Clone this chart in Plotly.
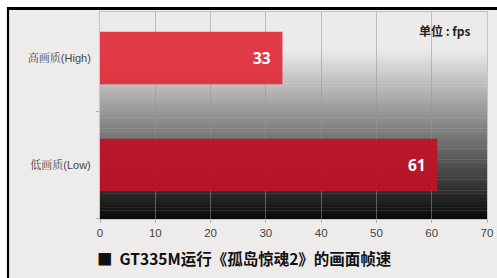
import plotly.graph_objects as go

categories = ["低画质(Low)", "高画质(High)"]
values = [61, 33]
bar_colors = ["#bd1427", "#e2303e"]
x_ticks = [0, 10, 20, 30, 40, 50, 60, 70]
title_text = "■  GT335M运行《孤岛惊魂2》的画面帧速"
unit_text = "单位 : fps"

W, H = 497, 278
L, R, T, B = 100, 10, 12, 59
pw, ph = W - L - R, H - T - B

def px_x(p):
    return (p - L) / pw

def px_y(p):
    return (H - B - p) / ph

fig = go.Figure()
fig.add_trace(go.Bar(
    y=categories, x=values, orientation="h",
    marker=dict(color=bar_colors, line=dict(width=0)),
    opacity=0.95,
    hoverinfo="skip",
))

shapes = []
# gradient background of plot area
top_c = (236, 235, 234)
bot_c = (8, 8, 8)
g_top = px_y(50)
N = 60
for i in range(N):
    y0 = g_top * i / N
    y1 = g_top * (i + 1) / N
    t = (i + 0.5) / N
    c = tuple(int(round(bot_c[k] + (top_c[k] - bot_c[k]) * t)) for k in range(3))
    shapes.append(dict(type="rect", xref="paper", yref="paper", x0=0, x1=1, y0=y0, y1=y1 + 0.002,
                       fillcolor="rgb(%d,%d,%d)" % c, line=dict(width=0), layer="below"))
# white outer margins
shapes.append(dict(type="rect", xref="paper", yref="paper", x0=px_x(0), x1=px_x(7), y0=px_y(H), y1=px_y(0),
                   fillcolor="white", line=dict(width=0), layer="below"))
shapes.append(dict(type="rect", xref="paper", yref="paper", x0=px_x(0), x1=px_x(W), y0=px_y(7), y1=px_y(0),
                   fillcolor="white", line=dict(width=0), layer="below"))
# black frame lines
shapes.append(dict(type="line", xref="paper", yref="paper", x0=px_x(7), x1=px_x(W), y0=px_y(8.5), y1=px_y(8.5),
                   line=dict(color="black", width=3)))
shapes.append(dict(type="line", xref="paper", yref="paper", x0=px_x(8), x1=px_x(8), y0=px_y(7), y1=px_y(H),
                   line=dict(color="black", width=2.2)))

annotations = []
for c, v in zip(categories, values):
    annotations.append(dict(x=v, y=c, xref="x", yref="y", text="<b>%d</b>" % v, showarrow=False,
                            xanchor="right", xshift=-9,
                            font=dict(family="Open Sans, Noto Sans, sans-serif", size=15.5, color="white")))
annotations.append(dict(x=px_x(95), y=px_y(258), xref="paper", yref="paper", text="<b>%s</b>" % title_text,
                        showarrow=False, xanchor="left", yanchor="middle",
                        font=dict(family="Noto Sans CJK SC", size=15.5, color="#111111")))
annotations.append(dict(x=px_x(472), y=px_y(31), xref="paper", yref="paper", text="<b>%s</b>" % unit_text,
                        showarrow=False, xanchor="right", yanchor="middle",
                        font=dict(family="Noto Sans CJK SC", size=12, color="#222222")))

fig.update_layout(
    width=W, height=H,
    margin=dict(l=L, r=R, t=T, b=B, pad=0, autoexpand=False),
    paper_bgcolor="#eeeceb",
    plot_bgcolor="#ecebea",
    bargap=0.51,
    showlegend=False,
    shapes=shapes,
    annotations=annotations,
    xaxis=dict(range=[0, 70], tickvals=x_ticks, ticktext=[str(t) for t in x_ticks],
               showgrid=True, gridcolor="rgba(150,150,150,0.55)", gridwidth=1, automargin=False,
               zeroline=False, showline=True, linecolor="#c4c4c4", linewidth=1, mirror=True,
               ticks="outside", ticklen=3, tickcolor="#b0b0b0",
               tickfont=dict(family="Liberation Sans, Arial, sans-serif", size=11.5, color="#444444")),
    yaxis=dict(range=[-0.505, 1.43], type="category", categoryorder="array", categoryarray=categories,
               showgrid=False, zeroline=False, showline=True, linecolor="#c4c4c4", linewidth=1, mirror=True,
               ticks="outside", ticklen=3, tickcolor="#b0b0b0", tickson="boundaries", automargin=False,
               ticklabelstandoff=6,
               tickfont=dict(family="Liberation Sans, Noto Serif CJK SC, Noto Sans CJK SC", size=11, color="#444444")),
)

fig.write_html("out.html", config={"displayModeBar": False},
               post_script="document.body.style.margin='0';document.body.style.overflow='hidden';")
